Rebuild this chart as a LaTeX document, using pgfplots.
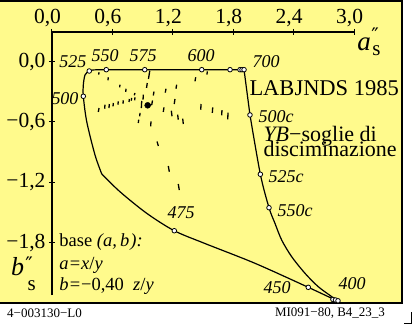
\documentclass[border=0pt]{standalone}
\usepackage{pgfplots}
\pgfplotsset{compat=1.18}
\usepackage{fontspec}
\setmainfont{Liberation Serif}
\newfontfamily\dejavu{DejaVu Serif}
\definecolor{bgy}{RGB}{255,250,140}
\newcommand\lab[3]{\node[font=\fontsize{18}{18}\selectfont\itshape, inner sep=0pt] at (#1pt,-#2pt) {#3};}
\begin{document}
\begin{tikzpicture}
\useasboundingbox (0pt,0pt) rectangle (413pt,-324pt);
\fill[white] (0pt,0pt) rectangle (413pt,-324pt);
\fill[bgy] (0pt,0pt) rectangle (401.7pt,-302.5pt);
\draw[line width=2pt] (0pt,-1pt) -- (401.7pt,-1pt) -- (401.7pt,-302.5pt) -- (0pt,-302.5pt);
\begin{axis}[
  at={(52pt,-295pt)}, anchor=south west,
  x=100.7pt, y=100.5pt,
  xmin=0, xmax=3.0, ymin=-2.3214, ymax=0.2955,
  axis x line*=top, axis y line*=left,
  axis line style={line width=1.2pt},
  xtick={0,0.6,1.2,1.8,2.4,3.0},
  xticklabels={{0,0},{0,6},{1,2},{1,8},{2,4},{3,0}},
  ytick={-1.8,-1.2,-0.6,0},
  yticklabels={{−1,8},{−1,2},{−0,6},{0,0}},
  tick align=center, major tick length=6pt,
  tick style={line width=1pt,black},
  ticklabel style={font=\fontsize{21.5}{21.5}\selectfont},
  xticklabel style={xshift=-4.5pt, yshift=-1pt},
  clip=false,
  unbounded coords=jump,
]
% spectral locus, left part
\addplot[black, line width=1.2pt, smooth, tension=0.5] coordinates {
 (2.823,-2.376) (2.545,-2.245) (2.016,-2.006) (1.519,-1.809) (1.2145,-1.682)
 (0.940,-1.508) (0.675,-1.294) (0.494,-1.117)};
\addplot[black, line width=1.2pt, smooth, tension=0.5] coordinates {
 (0.494,-1.117) (0.427,-0.928) (0.345,-0.597) (0.311,-0.344) (0.311,-0.232)
 (0.328,-0.132) (0.370,-0.0925) (0.417,-0.0816) (0.539,-0.0796)};
\addplot[black, line width=1.2pt] coordinates {(0.539,-0.0796) (1.907,-0.0796) (1.966,-0.530)};
\addplot[black, line width=1.2pt, smooth, tension=0.5] coordinates {
 (1.966,-0.530) (2.069,-1.120) (2.155,-1.453) (2.214,-1.608) (2.281,-1.775)
 (2.380,-1.940) (2.512,-2.105) (2.644,-2.239) (2.778,-2.338) (2.823,-2.376)};
% threshold dashes
\addplot[black, line width=1.3pt] coordinates {
 (0.467,-0.105) (0.464,-0.129) (nan,nan)
 (0.559,-0.155) (0.556,-0.185) (nan,nan)
 (0.675,-0.229) (0.672,-0.255) (nan,nan)
 (0.735,-0.269) (0.732,-0.301) (nan,nan)
 (0.824,-0.311) (0.817,-0.334) (nan,nan)
 (0.971,-0.090) (0.958,-0.172) (nan,nan)
 (0.946,-0.212) (0.939,-0.261) (nan,nan)
 (0.907,-0.328) (0.904,-0.378) (nan,nan)
 (0.891,-0.391) (0.887,-0.461) (nan,nan)
 (0.874,-0.510) (0.871,-0.543) (nan,nan)
 (0.861,-0.577) (0.857,-0.610) (nan,nan)
 (0.467,-0.461) (0.460,-0.500) (nan,nan)
 (0.526,-0.428) (0.523,-0.468) (nan,nan)
 (0.569,-0.421) (0.566,-0.461) (nan,nan)
 (0.609,-0.411) (0.606,-0.444) (nan,nan)
 (0.658,-0.394) (0.655,-0.428) (nan,nan)
 (0.708,-0.384) (0.705,-0.418) (nan,nan)
 (0.768,-0.371) (0.765,-0.401) (nan,nan)
 (0.791,-0.361) (0.787,-0.388) (nan,nan)
 (0.824,-0.354) (0.821,-0.384) (nan,nan)
 (1.013,-0.297) (1.006,-0.336) (nan,nan)
 (0.998,-0.386) (0.991,-0.426) (0.963,-0.436) (nan,nan)
 (1.542,-0.096) (1.539,-0.129) (nan,nan)
 (1.427,-0.155) (1.420,-0.195) (nan,nan)
 (1.238,-0.229) (1.231,-0.269) (nan,nan)
 (1.132,-0.269) (1.125,-0.308) (nan,nan)
 (1.221,-0.371) (1.214,-0.421) (nan,nan)
 (1.112,-0.454) (1.105,-0.500) (nan,nan)
 (1.185,-0.488) (1.192,-0.543) (nan,nan)
 (1.248,-0.527) (1.254,-0.577) (nan,nan)
 (1.298,-0.567) (1.304,-0.620) (nan,nan)
 (1.480,-0.421) (1.477,-0.478) (nan,nan)
 (1.596,-0.454) (1.592,-0.510) (nan,nan)
 (1.688,-0.481) (1.685,-0.533) (nan,nan)
 (1.748,-0.507) (1.745,-0.573) (nan,nan)
 (0.983,-0.593) (0.980,-0.643) (nan,nan)
 (1.043,-0.794) (1.056,-0.839) (nan,nan)
 (1.155,-1.038) (1.165,-1.095) (nan,nan)
 (1.254,-1.217) (1.264,-1.277)};
% markers
\addplot[only marks, mark=*, mark size=2.3pt, mark options={fill=white, draw=black, line width=0.8pt}] coordinates {
 (2.790,-2.366) (2.815,-2.371) (2.840,-2.379) (2.545,-2.245) (1.2145,-1.682)
 (0.311,-0.344) (0.370,-0.0925) (0.539,-0.0796) (0.921,-0.0796) (1.487,-0.0796)
 (1.768,-0.0796) (1.867,-0.0796) (1.887,-0.0796) (1.907,-0.0796)
 (1.966,-0.530) (2.069,-1.120) (2.155,-1.453)};
\addplot[only marks, mark=*, mark size=3pt, black] coordinates {(0.950,-0.434)};
\end{axis}
% curve labels
\lab{73}{62}{525}
\lab{105}{56}{550}
\lab{143}{56}{575}
\lab{201}{56}{600}
\lab{266}{61.7}{700}
\lab{65}{98.7}{500}
\lab{276}{116.7}{500c}
\lab{286}{177}{525c}
\lab{295}{210.5}{550c}
\lab{181}{213}{475}
\lab{277}{288}{450}
\lab{352}{283.7}{400}
% texts
\node[anchor=base west, inner sep=0pt, font=\fontsize{22.5}{22.5}\selectfont] at (249.3pt,-95pt) {LABJNDS 1985};
\node[anchor=base west, inner sep=0pt, font=\fontsize{22}{22}\selectfont] at (263.3pt,-141.5pt) {\textit{YB}−soglie di};
\node[anchor=base west, inner sep=0pt, font=\fontsize{22}{22}\selectfont] at (263.3pt,-156.5pt) {disciminazione};
\node[anchor=base west, inner sep=0pt, font=\fontsize{18.5}{18.5}\selectfont] at (59.3pt,-246pt) {base \textit{(a,\,b\kern1pt):}};
\node[anchor=base west, inner sep=0pt, font=\fontsize{18.5}{18.5}\selectfont] at (59.3pt,-269pt) {\textit{a}\kern1pt=\kern1pt\textit{x}/\textit{y}};
\node[anchor=base west, inner sep=0pt, font=\fontsize{18.5}{18.5}\selectfont] at (59.3pt,-290pt) {\textit{b}\kern1pt=\kern1pt−0,40\enspace\textit{z}/\textit{y}};
% axis labels
\node[anchor=base, inner sep=0pt, font=\fontsize{27}{27}\selectfont\itshape] at (364pt,-50pt) {a};
\node[inner sep=0pt, font=\fontsize{20}{20}\selectfont\dejavu] at (375pt,-35pt) {″};
\node[anchor=base, inner sep=0pt, font=\fontsize{21}{21}\selectfont] at (376.5pt,-55pt) {s};
\node[anchor=base, inner sep=0pt, font=\fontsize{26}{26}\selectfont\itshape] at (17.5pt,-275pt) {b};
\node[inner sep=0pt, font=\fontsize{20}{20}\selectfont\dejavu] at (29pt,-264pt) {″};
\node[anchor=base, inner sep=0pt, font=\fontsize{21}{21}\selectfont] at (31.7pt,-290pt) {s};
% footer
\node[inner sep=0pt, font=\fontsize{13}{13}\selectfont] at (44.5pt,-313.3pt) {4−003130−L0};
\node[inner sep=0pt, font=\fontsize{13}{13}\selectfont] at (330pt,-313.3pt) {MI091−80, B4\_23\_3};
\draw[line width=0.8pt] (404pt,-323.3pt) -- (411pt,-323.3pt) -- (411pt,-312pt);
\end{tikzpicture}
\end{document}
